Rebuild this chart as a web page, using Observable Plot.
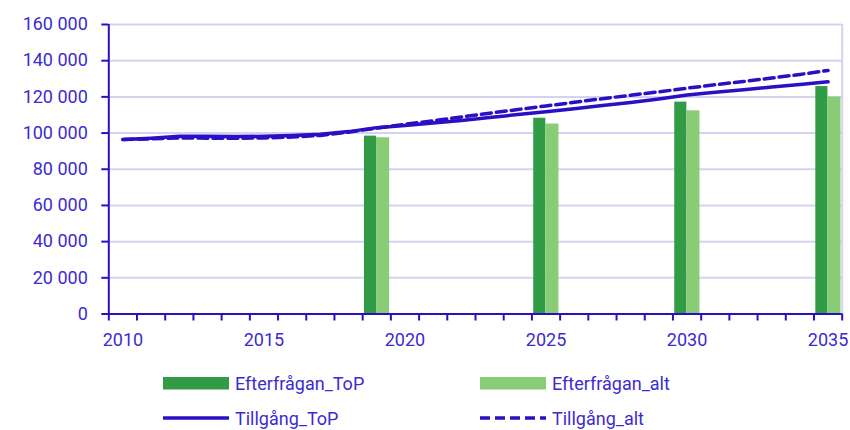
<!DOCTYPE html>
<html>
<head>
<meta charset="utf-8">
<script src="https://cdn.jsdelivr.net/npm/d3@7"></script>
<script src="https://cdn.jsdelivr.net/npm/@observablehq/plot@0.6"></script>
<style>
  body { margin: 0; background: #fff; font-family: Roboto, sans-serif; }
  #wrap { position: relative; width: 850px; height: 430px; overflow: hidden; }
  #legend { position: absolute; left: 0; top: 0; width: 850px; height: 430px; pointer-events: none; }
  .item { position: absolute; display: flex; align-items: center; font-size: 18px; color: #3c2bd1; white-space: nowrap; }
  .item svg { display: block; margin-right: 6px; }
</style>
</head>
<body>
<div id="wrap"><div id="chart"></div><div id="legend"></div></div>
<script>
// ---- data ----
const years = [2010, 2011, 2012, 2013, 2014, 2015, 2016, 2017, 2018, 2019, 2020, 2021, 2022,
               2023, 2024, 2025, 2026, 2027, 2028, 2029, 2030, 2031, 2032, 2033, 2034, 2035];
const tillgangToP = [96400, 97200, 98300, 98200, 98100, 98200, 98600, 99300, 100800, 103000, 104200,
                     105600, 107000, 108600, 110200, 111800, 113400, 115200, 116900, 118800, 121000,
                     122600, 124000, 125400, 126900, 128300];
const tillgangAlt = [96400, 96800, 97300, 97200, 97100, 97300, 97800, 98700, 100500, 102800, 104800,
                     106800, 108900, 111000, 113000, 115000, 117000, 119000, 120900, 122800, 124800,
                     126700, 128500, 130400, 132400, 134600];
const barYears = [2019, 2025, 2030, 2035];
const efterfraganToP = [98300, 108200, 117100, 125700];
const efterfraganAlt = [97400, 105000, 112300, 119900];
const yTicks = [0, 20000, 40000, 60000, 80000, 100000, 120000, 140000, 160000];
const xLabelTicks = [2010, 2015, 2020, 2025, 2030, 2035];

const seriesNames = ["Efterfrågan_ToP", "Efterfrågan_alt", "Tillgång_ToP", "Tillgång_alt"];

// ---- tables ----
const lineTop = years.map((y, i) => ({year: y, value: tillgangToP[i]}));
const lineAlt = years.map((y, i) => ({year: y, value: tillgangAlt[i]}));
const barsTop = barYears.map((y, i) => ({year: y, value: efterfraganToP[i]}));
const barsAlt = barYears.map((y, i) => ({year: y, value: efterfraganAlt[i]}));
const boundaries = d3.range(years[0] - 0.5, years[years.length - 1] + 1, 1);

const textColor = "#3c2bd1";
const lineColor = "#2a10c4";
const gridColor = "#d3d3f0";
const darkGreen = "#329b46";
const lightGreen = "#88cd75";
const fmt = d => d3.format(",")(d).replace(/,/g, " ");

const chart = Plot.plot({
  width: 850,
  height: 355,
  marginTop: 24,
  marginBottom: 41.5,
  marginLeft: 108.3,
  marginRight: 8.3,
  style: {fontFamily: "Roboto, sans-serif", fontSize: "18px", color: textColor, background: "#fff"},
  x: {type: "linear", domain: [years[0] - 0.5, years[years.length - 1] + 0.5]},
  y: {domain: [0, 160000]},
  marks: [
    Plot.gridY(yTicks, {stroke: gridColor, strokeOpacity: 1, strokeWidth: 2}),
    Plot.ruleX([years[years.length - 1] + 0.5], {stroke: gridColor, strokeWidth: 2}),
    Plot.rectY(barsTop, {x1: d => d.year - 0.5, x2: d => d.year + 0.5, y: "value", fill: darkGreen, insetLeft: 1.8, insetRight: 14.3}),
    Plot.rectY(barsAlt, {x1: d => d.year - 0.5, x2: d => d.year + 0.5, y: "value", fill: lightGreen, insetLeft: 13.9, insetRight: 1.2}),
    Plot.line(lineAlt, {x: "year", y: "value", stroke: lineColor, strokeWidth: 3.5, strokeDasharray: "10,5"}),
    Plot.line(lineTop, {x: "year", y: "value", stroke: lineColor, strokeWidth: 3.5}),
    Plot.axisY(yTicks, {tickSize: 7, tickPadding: 14, tickFormat: fmt, stroke: lineColor, strokeWidth: 2, fill: textColor, label: null}),
    Plot.axisX(boundaries, {tickSize: 7, tickFormat: () => "", stroke: lineColor, strokeWidth: 2, label: null}),
    Plot.axisX(xLabelTicks, {tickSize: 0, tickPadding: 19, tickFormat: d => String(d), fill: textColor, label: null}),
    Plot.ruleX([years[0] - 0.5], {stroke: lineColor, strokeWidth: 2}),
    Plot.ruleY([0], {stroke: lineColor, strokeWidth: 2})
  ]
});
document.getElementById("chart").appendChild(chart);

// ---- legend ----
const legend = document.getElementById("legend");
const items = [
  {name: seriesNames[0], left: 163, top: 383, kind: "rect", color: darkGreen},
  {name: seriesNames[1], left: 480, top: 383, kind: "rect", color: lightGreen},
  {name: seriesNames[2], left: 163, top: 418, kind: "line", color: lineColor},
  {name: seriesNames[3], left: 480, top: 418, kind: "dash", color: lineColor}
];
for (const it of items) {
  const div = document.createElement("div");
  div.className = "item";
  div.style.left = it.left + "px";
  div.style.top = (it.top - 13) + "px";
  div.style.height = "26px";
  let sw;
  if (it.kind === "rect") {
    sw = `<svg width="66" height="14"><rect x="0" y="1" width="66" height="12.5" fill="${it.color}"/></svg>`;
  } else if (it.kind === "line") {
    sw = `<svg width="66" height="14"><line x1="0" x2="66" y1="7" y2="7" stroke="${it.color}" stroke-width="3.5"/></svg>`;
  } else {
    sw = `<svg width="66" height="14"><line x1="0" x2="66" y1="7" y2="7" stroke="${it.color}" stroke-width="3.5" stroke-dasharray="10,5"/></svg>`;
  }
  div.innerHTML = sw + `<span>${it.name}</span>`;
  legend.appendChild(div);
}
</script>
</body>
</html>
